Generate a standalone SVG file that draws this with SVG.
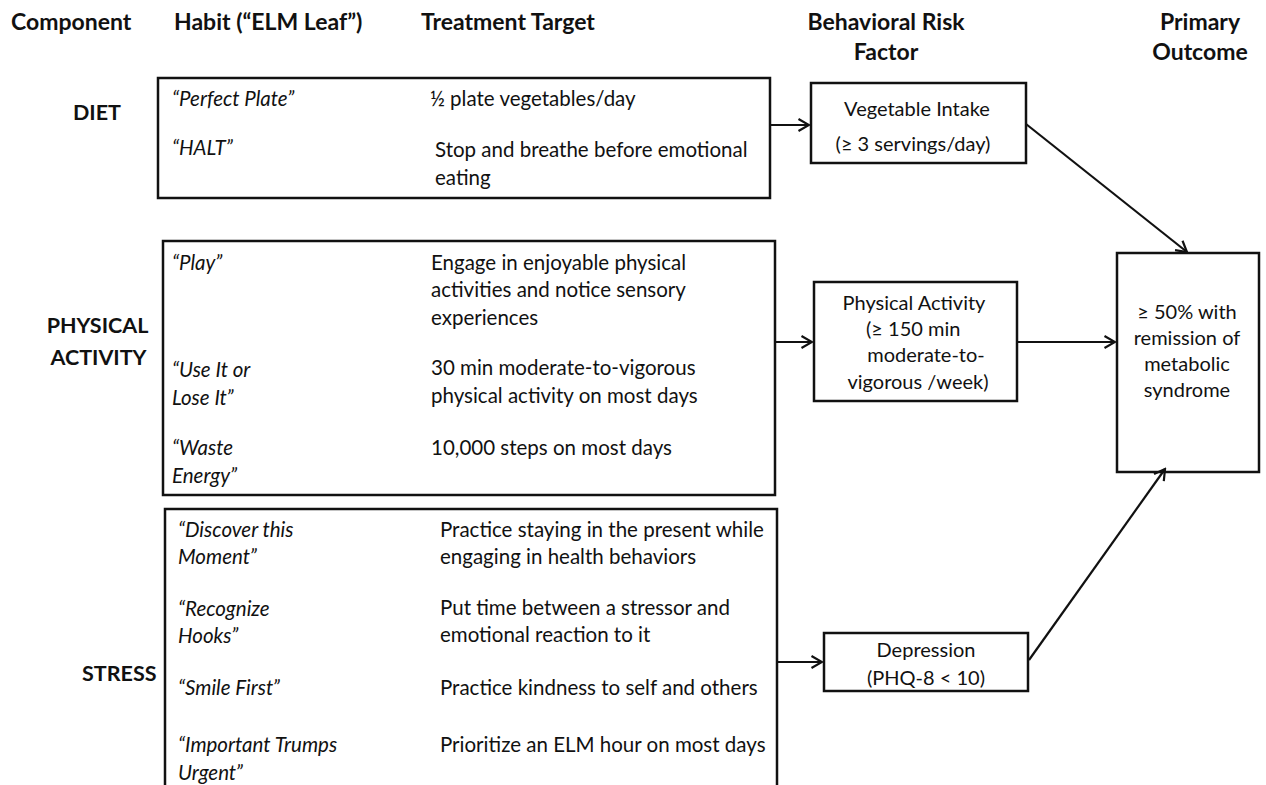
<svg xmlns="http://www.w3.org/2000/svg" width="1266" height="785" viewBox="0 0 1266 785">
<style>
text{font-family:Lato,"Liberation Sans",sans-serif;fill:#111;font-size:20.5px}
.h{font-weight:bold;font-size:23px}
.l{font-weight:bold;font-size:21.5px}
.r{font-size:20px}
.i{font-style:italic}
.c{text-anchor:middle}
.box{fill:#fff;stroke:#111;stroke-width:2.5}
.conn{stroke:#111;stroke-width:2.2;fill:none;marker-end:url(#ah)}
</style>
<defs>
<marker id="ah" markerWidth="14" markerHeight="14" refX="12" refY="7" orient="auto" markerUnits="userSpaceOnUse">
<path d="M1.5,1 L12,7 L1.5,13" fill="none" stroke="#111" stroke-width="2.2"/>
</marker>
</defs>
<rect width="1266" height="785" fill="#fff"/>
<g id="headers">
<text class="h" x="11" y="30">Component</text>
<text class="h" x="174" y="30">Habit (“ELM Leaf”)</text>
<text class="h" x="421" y="30">Treatment Target</text>
<text class="h c" x="886" y="30">Behavioral Risk</text>
<text class="h c" x="886" y="60">Factor</text>
<text class="h c" x="1200" y="30">Primary</text>
<text class="h c" x="1200" y="60">Outcome</text>
</g>
<g id="labels">
<text class="l" x="73" y="120">DIET</text>
<text class="l c" x="97.5" y="333">PHYSICAL</text>
<text class="l c" x="98.5" y="365">ACTIVITY</text>
<text class="l" x="82" y="681">STRESS</text>
</g>
<g id="diet">
<rect class="box" x="158" y="78" width="612" height="120"/>
<text class="i" x="172" y="106">“Perfect Plate”</text>
<text x="430" y="106">½ plate vegetables/day</text>
<text class="i" x="172" y="155">“HALT”</text>
<text x="435" y="157">Stop and breathe before emotional</text>
<text x="435" y="185">eating</text>
</g>
<g id="physical">
<rect class="box" x="163" y="241" width="612" height="254"/>
<text class="i" x="172" y="270">“Play”</text>
<text x="431" y="270">Engage in enjoyable physical</text>
<text x="431" y="297">activities and notice sensory</text>
<text x="431" y="325">experiences</text>
<text class="i" x="172" y="377">“Use It or</text>
<text class="i" x="172" y="405">Lose It”</text>
<text x="431" y="375">30 min moderate-to-vigorous</text>
<text x="431" y="403">physical activity on most days</text>
<text class="i" x="172" y="455">“Waste</text>
<text class="i" x="172" y="483">Energy”</text>
<text x="431" y="455">10,000 steps on most days</text>
</g>
<g id="stress">
<rect class="box" x="165" y="509" width="612" height="290"/>
<text class="i" x="178" y="537">“Discover this</text>
<text class="i" x="178" y="564">Moment”</text>
<text x="440" y="537">Practice staying in the present while</text>
<text x="440" y="564">engaging in health behaviors</text>
<text class="i" x="178" y="616">“Recognize</text>
<text class="i" x="178" y="643">Hooks”</text>
<text x="440" y="615">Put time between a stressor and</text>
<text x="440" y="642">emotional reaction to it</text>
<text class="i" x="178" y="695">“Smile First”</text>
<text x="440" y="695">Practice kindness to self and others</text>
<text class="i" x="178" y="752">“Important Trumps</text>
<text class="i" x="178" y="780">Urgent”</text>
<text x="440" y="752">Prioritize an ELM hour on most days</text>
</g>
<g id="vegetable">
<rect class="box" x="811" y="83" width="215" height="80"/>
<text class="r c" x="917" y="116">Vegetable Intake</text>
<text class="r c" x="913" y="151">(≥ 3 servings/day)</text>
</g>
<g id="pa-risk">
<rect class="box" x="814" y="282" width="203" height="119"/>
<text class="r c" x="914" y="310">Physical Activity</text>
<text class="r" x="866" y="336">(≥ 150 min</text>
<text class="r c" x="926" y="362">moderate-to-</text>
<text class="r c" x="918" y="389">vigorous /week)</text>
</g>
<g id="depression">
<rect class="box" x="824" y="633" width="204" height="58"/>
<text class="r c" x="926" y="657">Depression</text>
<text class="r c" x="926" y="685">(PHQ-8 &lt; 10)</text>
</g>
<g id="outcome">
<rect class="box" x="1117" y="253" width="142" height="219"/>
<text class="r c" x="1187" y="319">≥ 50% with</text>
<text class="r c" x="1187" y="345">remission of</text>
<text class="r c" x="1187" y="371">metabolic</text>
<text class="r c" x="1187" y="397">syndrome</text>
</g>
<g id="connectors">
<line class="conn" x1="770" y1="125" x2="809" y2="125"/>
<line class="conn" x1="775" y1="342" x2="812" y2="342"/>
<line class="conn" x1="777" y1="662" x2="822" y2="662"/>
<line class="conn" x1="1026" y1="124" x2="1187" y2="252"/>
<line class="conn" x1="1017" y1="342" x2="1115" y2="342"/>
<line class="conn" x1="1029" y1="660" x2="1165" y2="469"/>
</g>
</svg>
